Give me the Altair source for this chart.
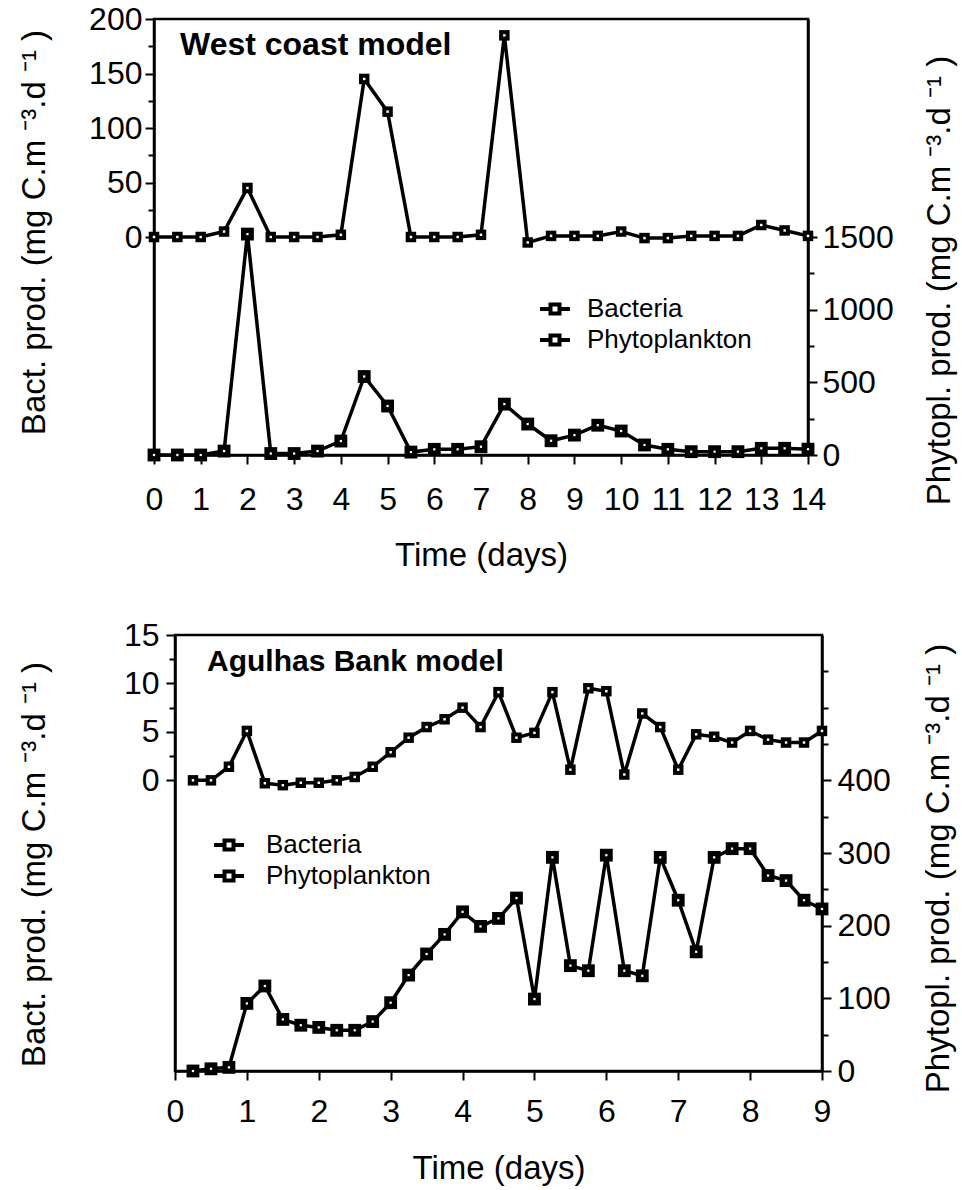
import altair as alt
import pandas as pd

FONT = "Liberation Sans"

# ---------------- West coast model ----------------
wc_time = [0, 0.5, 1, 1.5, 2, 2.5, 3, 3.5, 4, 4.5, 5, 5.5, 6, 6.5, 7, 7.5, 8,
           8.5, 9, 9.5, 10, 10.5, 11, 11.5, 12, 12.5, 13, 13.5, 14]
wc_bact = [0, 0, 0, 5, 45, 0, 0, 0, 2, 145, 115, 0, 0, 0, 2, 185, -5,
           1, 1, 1, 5, -1, -1, 1, 1, 1, 11, 6, 1]
wc_phyto = [0, 0, 0, 27, 1520, 10, 10, 27, 96, 540, 337, 20, 39, 39, 57, 350, 213,
            98, 137, 205, 165, 69, 39, 23, 23, 23, 46, 46, 40]

# ---------------- Agulhas Bank model ----------------
ag_time = [0.25, 0.5, 0.75, 1, 1.25, 1.5, 1.75, 2, 2.25, 2.5, 2.75, 3, 3.25, 3.5,
           3.75, 4, 4.25, 4.5, 4.75, 5, 5.25, 5.5, 5.75, 6, 6.25, 6.5, 6.75, 7,
           7.25, 7.5, 7.75, 8, 8.25, 8.5, 8.75, 9]
ag_bact = [0, 0, 1.4, 5.1, -0.3, -0.5, -0.25, -0.25, 0, 0.35, 1.4, 2.9, 4.4, 5.5,
           6.3, 7.5, 5.5, 9.1, 4.4, 4.9, 9.1, 1.1, 9.5, 9.2, 0.6, 6.9, 5.5, 1.1,
           4.75, 4.5, 3.9, 5.1, 4.2, 3.9, 3.9, 5.1]
ag_phyto = [0, 3, 5, 93, 117, 71, 63, 60, 56, 56, 68, 94, 132, 161, 188, 219, 199,
            210, 238, 99, 294, 145, 138, 297, 138, 131, 294, 235, 164, 294, 306,
            306, 269, 262, 235, 223]

series = ["Bacteria", "Phytoplankton"]

# tick value lists
wc_xticks = [0, 0.5, 1, 1.5, 2, 2.5, 3, 3.5, 4, 4.5, 5, 5.5, 6, 6.5, 7, 7.5, 8,
             8.5, 9, 9.5, 10, 10.5, 11, 11.5, 12, 12.5, 13, 13.5, 14]
wc_bticks = [0, 25, 50, 75, 100, 125, 150, 175, 200]
wc_pticks = [0, 250, 500, 750, 1000, 1250, 1500]
ag_xticks = [0, 0.5, 1, 1.5, 2, 2.5, 3, 3.5, 4, 4.5, 5, 5.5, 6, 6.5, 7, 7.5, 8,
             8.5, 9]
ag_bticks = [0, 2.5, 5, 7.5, 10, 12.5, 15]
ag_pticks = [0, 50, 100, 150, 200, 250, 300, 350, 400, 450, 500, 550]

SUP3 = "\u207b\u00b3"
SUP1 = "\u207b\u00b9"
WC_BACT_TITLE = f"Bact. prod. (mg C.m   {SUP3}.d  {SUP1}  )"
WC_PHYTO_TITLE = f"Phytopl. prod. (mg C.m      {SUP3}.d     {SUP1}      )"
AG_BACT_TITLE = f"Bact. prod. (mg C.m   {SUP3}.d  {SUP1}  )"
AG_PHYTO_TITLE = f"Phytopl. prod. (mg C.m  {SUP3}.d  {SUP1}  )"

LEGEND_PATH = "M-1,0H-0.3M0.3,0H1M-0.3,-0.3H0.3V0.3H-0.3Z"


def panel(time, bact, phyto, xdom, xticks, bdom, bticks, bmajor, pdom, pticks,
          plabel_test, width, height, label_text, label_size, label_xy, legend_xy,
          legend_offset, xlabpad, xtitlepad, ylabpad_l, ytitlepad_l,
          ylabpad_r, ytitlepad_r, ltitle_y, rtitle_y, btitle, ptitle):
    df_b = pd.DataFrame({"t": time, "v": bact, "s": "Bacteria"})
    df_p = pd.DataFrame({"t": time, "v": phyto, "s": "Phytoplankton"})

    x = alt.X("t:Q", scale=alt.Scale(domain=xdom, nice=False, zero=False),
              axis=alt.Axis(values=xticks, title="Time (days)", format="d",
                            labelExpr="datum.value % 1 == 0 ? datum.label : ''",
                            labelOverlap=False, labelFlush=False, tickSize=9,
                            labelPadding=xlabpad, titlePadding=xtitlepad))
    yb = alt.Y("v:Q", scale=alt.Scale(domain=bdom, nice=False, zero=False),
               axis=alt.Axis(values=bticks, orient="left", title=btitle, format="d",
                             labelExpr=f"datum.value % {bmajor} == 0 ? datum.label : ''",
                             tickSize={"condition": {"test": f"datum.value % {bmajor} == 0", "value": 9}, "value": 6},
                             labelOverlap=False, labelFlush=False, titleY=ltitle_y,
                             labelPadding=ylabpad_l, titlePadding=ytitlepad_l))
    yp = alt.Y("v:Q", scale=alt.Scale(domain=pdom, nice=False, zero=False),
               axis=alt.Axis(values=pticks, orient="right", title=ptitle, format="d",
                             labelExpr=f"{plabel_test} ? datum.label : ''",
                             tickSize={"condition": {"test": plabel_test, "value": 9}, "value": 6},
                             labelOverlap=False, labelFlush=False, titleAngle=270,
                             titleY=rtitle_y,
                             labelPadding=ylabpad_r, titlePadding=ytitlepad_r))

    color = alt.Color("s:N", scale=alt.Scale(domain=series, range=["black", "black"]),
                      legend=alt.Legend(title=None, orient="none",
                                        legendX=legend_xy[0], legendY=legend_xy[1],
                                        symbolType=LEGEND_PATH, symbolSize=900,
                                        symbolStrokeWidth=4, symbolStrokeColor="black",
                                        symbolFillColor="white",
                                        labelFont=FONT, labelFontSize=26,
                                        labelColor="black", labelLimit=400,
                                        labelOffset=legend_offset, rowPadding=1))

    base_b = alt.Chart(df_b).encode(x=x, y=yb)
    base_p = alt.Chart(df_p).encode(x=x, y=yp)

    lay_b = alt.layer(
        base_b.mark_line(strokeWidth=3.5).encode(color=color),
        base_b.mark_square(size=110, color="black", opacity=1),
        base_b.mark_square(size=6, color="white", opacity=1),
    )
    lay_p = alt.layer(
        base_p.mark_line(strokeWidth=3.5).encode(color=color),
        base_p.mark_square(size=165, color="black", opacity=1),
        base_p.mark_square(size=5, color="white", opacity=1),
    )
    txt = alt.Chart(pd.DataFrame({"label": [label_text]})).mark_text(
        font=FONT, fontSize=label_size, fontWeight="bold", align="left",
        baseline="alphabetic", color="black"
    ).encode(x=alt.value(label_xy[0]), y=alt.value(label_xy[1]), text="label:N")

    return alt.layer(lay_b, lay_p, txt).resolve_scale(y="independent").properties(
        width=width, height=height)


def spacer():
    return alt.Chart(pd.DataFrame({"z": [0]})).mark_point(opacity=0, size=1).encode(
        x=alt.value(0), y=alt.value(0)
    ).properties(width=1, height=1, view=alt.ViewBackground(stroke="transparent"))


top = panel(wc_time, wc_bact, wc_phyto, [0, 14], wc_xticks, [-200, 200], wc_bticks, 50,
            [0, 3000], wc_pticks, "datum.value % 500 == 0", 654, 436,
            "West coast model", 32, (26, 36), (384, 273), 15,
            20, 24, 3, 37, 5, 63, 213, 261, WC_BACT_TITLE, WC_PHYTO_TITLE)
bottom = panel(ag_time, ag_bact, ag_phyto, [0, 9], ag_xticks, [-30, 15], ag_bticks, 5,
               [0, 600], ag_pticks, "(datum.value % 100 == 0 && datum.value <= 400)",
               647, 436, "Agulhas Bank model", 30, (32, 36), (37, 193), 20,
               16, 25, 7, 72, 6, 65, 229, 233, AG_BACT_TITLE, AG_PHYTO_TITLE)

row_top = alt.hconcat(spacer(), top, spacing=0).resolve_scale(color="independent")
row_bottom = alt.hconcat(spacer(), bottom, spacing=0).resolve_scale(color="independent")

chart = alt.vconcat(row_top, row_bottom, spacing=43).resolve_scale(
    color="independent").properties(
    padding={"left": 12, "top": -11, "right": 2, "bottom": 3}
).configure_axis(
    domainColor="black", domainWidth=2.5, tickColor="black", tickWidth=2,
    labelFont=FONT, labelFontSize=32, labelColor="black",
    titleFont=FONT, titleFontSize=33, titleFontWeight="normal", titleColor="black",
    grid=False
).configure_view(stroke="black", strokeWidth=2.5)

chart.save("out.html", embed_options={"renderer": "svg", "actions": False})
